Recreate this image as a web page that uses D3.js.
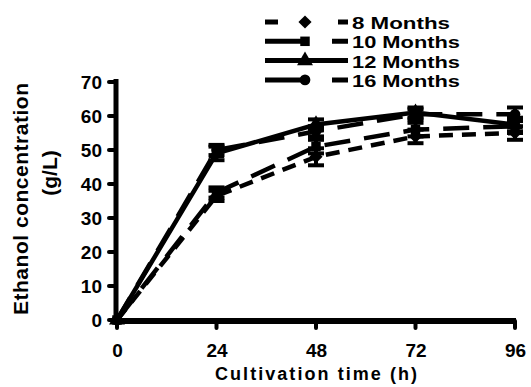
<!DOCTYPE html>
<html>
<head>
<meta charset="utf-8">
<script src="https://cdn.jsdelivr.net/npm/d3@7"></script>
<style>
  body { margin: 0; background: #fff; }
  svg text { font-family: "Liberation Sans", Arial, sans-serif; font-weight: bold; fill: #000; }
</style>
</head>
<body>
<svg id="canvas" width="531" height="387"></svg>
<script>
// data
const times = [0, 24, 48, 72, 96];
const xTicks = [0, 24, 48, 72, 96];
const yTicks = [0, 10, 20, 30, 40, 50, 60, 70];

const seriesNames = ['8 Months', '10 Months', '12 Months', '16 Months'];
const m8 = [0, 36.5, 48, 54, 55];
const m10 = [0, 37.5, 51, 56, 57];
const m12 = [0, 49, 57.5, 61, 57.5];
const m16 = [0, 50, 55.5, 60.5, 60.5];
const err8 = [0, 1.5, 2.5, 2, 2];
const err10 = [0, 1.5, 2, 2, 2];
const err12 = [0, 2, 1.5, 1.5, 2];
const err16 = [0, 1.5, 1.5, 1.5, 2];

const allValues = [m8, m10, m12, m16];
const allErrors = [err8, err10, err12, err16];

// styles per series
const symbols = [d3.symbolDiamond2, d3.symbolSquare, d3.symbolTriangle, d3.symbolCircle];
const symbolSizes = [110, 90, 110, 90];
const dashes = ['14,9', '26,14', null, '26,14'];
const legendDashes = ['13,60,10', '37,30,16', null, '37,30,16'];
const legendWidths = [98, 108, 108, 108];

let canvas = d3.select('#canvas');

let x = d3.scaleLinear().domain([0, 96]).range([117, 515]);
let y = d3.scaleLinear().domain([0, 70]).range([320, 82]);

// axes
let gx = canvas.append('g').attr('transform', 'translate(0,' + (y(0) + 1) + ')');
let xAxis = d3.axisBottom(x).tickValues(xTicks).tickSize(0).tickPadding(23);
gx.call(xAxis);
gx.select('.domain').remove();
gx.selectAll('text').style('font-size', '19px');
gx.append('line').attr('x1', x(0) - 2).attr('x2', x(96) + 1).attr('y1', 0).attr('y2', 0)
    .attr('stroke', '#000').attr('stroke-width', 6);
gx.selectAll('.tickmark').data(xTicks).enter().append('line')
    .attr('x1', d => x(d)).attr('x2', d => x(d)).attr('y1', 0).attr('y2', 7)
    .attr('stroke', '#000').attr('stroke-width', 4).attr('stroke-linecap', 'round');

let gy = canvas.append('g').attr('transform', 'translate(116,0)');
let yAxis = d3.axisLeft(y).tickValues(yTicks).tickSize(0).tickPadding(14);
gy.call(yAxis);
gy.select('.domain').remove();
gy.selectAll('text').style('font-size', '19px');
gy.append('line').attr('x1', 0).attr('x2', 0).attr('y1', y(70) - 3).attr('y2', y(0) + 4)
    .attr('stroke', '#000').attr('stroke-width', 5);
gy.selectAll('.tickmark').data(yTicks).enter().append('line')
    .attr('x1', -7).attr('x2', 0).attr('y1', d => y(d)).attr('y2', d => y(d))
    .attr('stroke', '#000').attr('stroke-width', 4).attr('stroke-linecap', 'round');

// axis titles
canvas.append('text')
    .attr('transform', 'translate(28,199) rotate(-90)')
    .attr('text-anchor', 'middle')
    .attr('textLength', 232)
    .style('font-size', '21px')
    .text('Ethanol concentration');
canvas.append('text')
    .attr('transform', 'translate(57,173) rotate(-90)')
    .attr('text-anchor', 'middle')
    .style('font-size', '21px')
    .text('(g/L)');
canvas.append('text')
    .attr('x', 316).attr('y', 380)
    .attr('text-anchor', 'middle')
    .attr('textLength', 202)
    .style('font-size', '18px')
    .text('Cultivation time (h)');

// lines, error bars, markers
let line = d3.line().x((d, i) => x(times[i])).y(d => y(d));

allValues.forEach((vals, s) => {
    let g = canvas.append('g');
    g.append('path')
        .attr('d', line(vals))
        .attr('fill', 'none')
        .attr('stroke', '#000')
        .attr('stroke-width', 4.5)
        .attr('stroke-dasharray', dashes[s]);

    let errs = allErrors[s];
    vals.forEach((v, i) => {
        if (errs[i] === 0) return;
        let cx = x(times[i]);
        g.append('line').attr('x1', cx).attr('x2', cx)
            .attr('y1', y(v - errs[i])).attr('y2', y(v + errs[i]))
            .attr('stroke', '#000').attr('stroke-width', 4);
        [v - errs[i], v + errs[i]].forEach(e => {
            g.append('line').attr('x1', cx - 8).attr('x2', cx + 8)
                .attr('y1', y(e)).attr('y2', y(e))
                .attr('stroke', '#000').attr('stroke-width', 4);
        });
    });

    g.selectAll('.mark').data(vals).enter().append('path')
        .attr('d', d3.symbol().type(symbols[s]).size(symbolSizes[s]))
        .attr('transform', (d, i) => 'translate(' + x(times[i]) + ',' + y(d) + ')')
        .attr('fill', '#000');
});

// legend
let legend = canvas.append('g');
seriesNames.forEach((name, s) => {
    let base = 29 + s * 19.3;
    let cy = base - 7;
    legend.append('line')
        .attr('x1', 265).attr('x2', 348).attr('y1', cy).attr('y2', cy)
        .attr('stroke', '#000').attr('stroke-width', 5)
        .attr('stroke-dasharray', legendDashes[s]);
    legend.append('path')
        .attr('d', d3.symbol().type(symbols[s]).size(symbolSizes[s])())
        .attr('transform', 'translate(305,' + cy + ')')
        .attr('fill', '#000');
    legend.append('text')
        .attr('x', 352).attr('y', base)
        .attr('textLength', legendWidths[s])
        .attr('lengthAdjust', 'spacingAndGlyphs')
        .style('font-size', '17px')
        .text(name);
});
</script>
</body>
</html>
